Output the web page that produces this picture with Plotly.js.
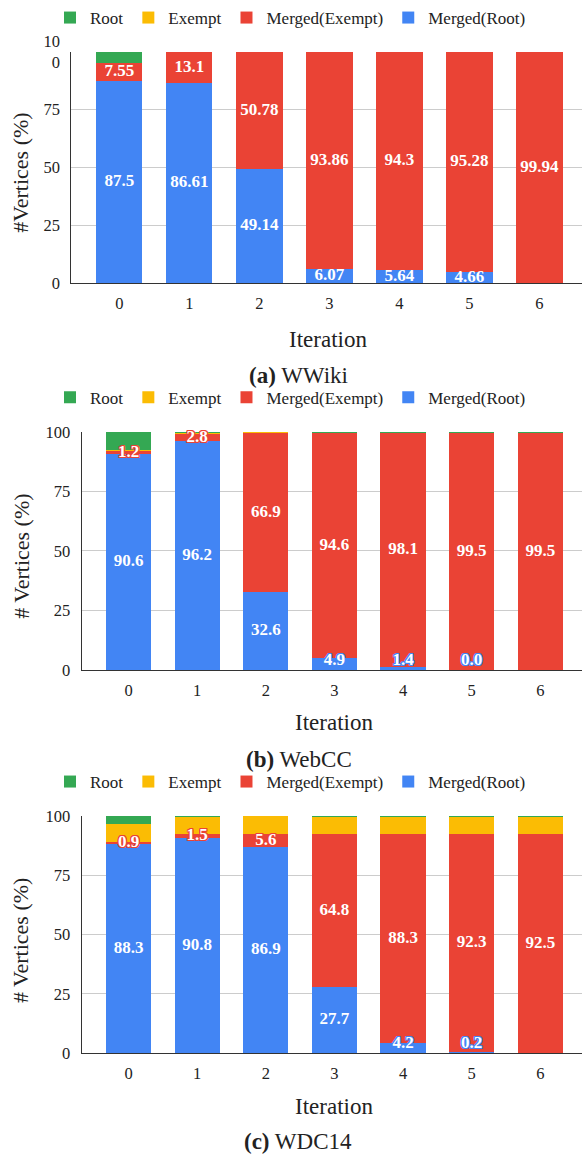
<!DOCTYPE html>
<html><head><meta charset="utf-8">
<script src="https://cdn.plot.ly/plotly-3.0.1.min.js"></script>
<style>html,body{margin:0;padding:0;background:#fff}#chart{width:582px;height:1158px}</style>
</head><body><div id="chart"></div>
<script>
const iterations = ['0','1','2','3','4','5','6'];
const seriesNames = ['Merged(Root)','Merged(Exempt)','Exempt','Root'];
const seriesColors = ['#4285f4','#ea4335','#fbbc04','#34a853'];

// (a) WWiki
const wwikiMergedRoot   = [87.5, 86.61, 49.14, 6.07, 5.64, 4.66, 0];
const wwikiMergedExempt = [7.55, 13.1, 50.78, 93.86, 94.3, 95.28, 99.94];
const wwikiExempt       = [0, 0.2, 0.08, 0, 0, 0, 0];
const wwikiRoot         = [4.95, 0.09, 0, 0.07, 0.06, 0.06, 0.06];
const wwikiTicks = ['0','25','50','75','10<br>0'];

// (b) WebCC
const webccMergedRoot   = [90.6, 96.2, 32.6, 4.9, 1.4, 0.04, 0];
const webccMergedExempt = [1.2, 2.8, 66.9, 94.6, 98.1, 99.5, 99.5];
const webccExempt       = [0.5, 0.4, 0.4, 0, 0, 0, 0];
const webccRoot         = [7.7, 0.6, 0.1, 0.5, 0.5, 0.46, 0.5];

// (c) WDC14
const wdcMergedRoot   = [88.3, 90.8, 86.9, 27.7, 4.2, 0.2, 0];
const wdcMergedExempt = [0.9, 1.5, 5.6, 64.8, 88.3, 92.3, 92.5];
const wdcExempt       = [7.5, 7.3, 7.4, 7.1, 7.1, 7.1, 7.1];
const wdcRoot         = [3.3, 0.4, 0.1, 0.4, 0.4, 0.4, 0.4];
const stdTicks = ['0','25','50','75','100'];
const tickVals = [0,25,50,75,100];

const FONT = 'Liberation Serif, Times New Roman, serif';
const TXT = '#222';

const panels = [
  {series:[wwikiMergedRoot, wwikiMergedExempt, wwikiExempt, wwikiRoot], fmt: v => String(v), outline:false, minLabel:0, legend:'legend', xa:'x', ya:'y'},
  {series:[webccMergedRoot, webccMergedExempt, webccExempt, webccRoot], fmt: v => v.toFixed(1), outline:true, minLabel:3.8, legend:'legend2', xa:'x2', ya:'y2'},
  {series:[wdcMergedRoot, wdcMergedExempt, wdcExempt, wdcRoot], fmt: v => v.toFixed(1), outline:true, minLabel:3.8, legend:'legend3', xa:'x3', ya:'y3'}
];

const data = [];
// stacked bars
panels.forEach(p => {
  p.series.forEach((vals, i) => {
    data.push({
      type:'bar', name: seriesNames[i], x: iterations, y: vals,
      xaxis: p.xa, yaxis: p.ya, legend: p.legend,
      marker:{color:seriesColors[i], line:{width:0}},
      textposition:'none', hoverinfo:'x+y+name'
    });
  });
});
// value labels for the two merged series, centred on their segments
panels.forEach(p => {
  [0,1].forEach(i => {
    const vals = p.series[i];
    const c = seriesColors[i];
    const base = vals.map((v, k) => p.series.slice(0, i).reduce((s, arr) => s + arr[k], 0));
    const shadow = p.outline ? `1px 0 0 ${c}, -1px 0 0 ${c}, 0 1px 0 ${c}, 0 -1px 0 ${c}, 1px 1px 0 ${c}, -1px -1px 0 ${c}, 1px -1px 0 ${c}, -1px 1px 0 ${c}` : 'none';
    data.push({
      type:'scatter', mode:'text', x: iterations,
      y: vals.map((v, k) => Math.max(base[k] + v / 2, p.minLabel)),
      text: vals.map(v => v > 0 ? p.fmt(v) : ''),
      xaxis: p.xa, yaxis: p.ya, showlegend:false, cliponaxis:false, hoverinfo:'skip',
      textposition:'middle center',
      textfont:{family:FONT, size:17, color:'#fff', weight:'bold', shadow: shadow}
    });
  });
});

const px = v => v/582, py = v => 1 - v/1158;

function xaxis(left, anchor){
  return {domain:[px(left),1], anchor:anchor, range:[-0.686, 6.607], type:'category',
    showline:true, linecolor:'#333', linewidth:1, ticks:'', showgrid:false, zeroline:false,
    tickfont:{family:FONT, size:16.5, color:TXT}, ticklabelstandoff:5, fixedrange:true};
}
function yaxis(top, bottom, anchor, ticktext){
  return {domain:[py(bottom), py(top)], anchor:anchor, range:[0,100],
    tickvals:tickVals, ticktext:ticktext, showgrid:true, gridcolor:'#cccccc', gridwidth:1,
    showline:true, linecolor:'#333', linewidth:1, zeroline:false, ticks:'',
    tickfont:{family:FONT, size:16.5, color:TXT}, ticklabelstandoff:7, fixedrange:true};
}
function legend(y){
  return {orientation:'h', x:px(290.5), xanchor:'center', y:py(y), yanchor:'middle',
    traceorder:'reversed', font:{family:FONT, size:17, color:TXT}, bgcolor:'rgba(0,0,0,0)', itemwidth:30};
}
const ann = (text, x, y, size, angle) => ({text:text, x:px(x), y:py(y), xref:'paper', yref:'paper',
  xanchor:'center', yanchor:'middle', showarrow:false, textangle:angle||0,
  font:{family:FONT, size:size, color:TXT}});

const layout = {
  width:582, height:1158, margin:{l:0,r:0,t:0,b:0},
  paper_bgcolor:'#fff', plot_bgcolor:'#fff',
  barmode:'stack', bargap:0.34,
  font:{family:FONT, color:TXT},
  xaxis: xaxis(71.3,'y'), yaxis: yaxis(45, 277.7, 'x', wwikiTicks),
  xaxis2: xaxis(81.5,'y2'), yaxis2: yaxis(427.5, 667, 'x2', stdTicks),
  xaxis3: xaxis(81.5,'y3'), yaxis3: yaxis(814, 1052.3, 'x3', stdTicks),
  legend: legend(11), legend2: legend(393), legend3: legend(779.7),
  annotations:[
    ann('Iteration', 328, 334.3, 23),
    ann('<b>(a)</b> WWiki', 298, 370.7, 23),
    ann('#Vertices (%)', 20.7, 167, 22, -90),
    ann('Iteration', 333.5, 720, 23),
    ann('<b>(b)</b> WebCC', 298.5, 757.3, 23),
    ann('# Vertices (%)', 20.7, 552.5, 22, -90),
    ann('Iteration', 333.5, 1106, 23),
    ann('<b>(c)</b> WDC14', 298, 1141.7, 23),
    ann('# Vertices (%)', 20.7, 939, 22, -90)
  ],
  showlegend:true
};

Plotly.newPlot('chart', data, layout, {displayModeBar:false, staticPlot:true});
</script>
</body></html>
